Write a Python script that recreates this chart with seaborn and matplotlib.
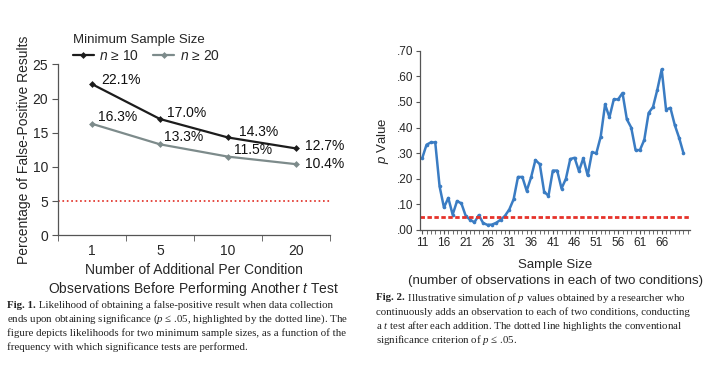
import numpy as np
import pandas as pd
import matplotlib
matplotlib.use('Agg')
import matplotlib.pyplot as plt
import seaborn as sns
from matplotlib.ticker import FuncFormatter, FixedLocator

# Fig. 1: false-positive rate by how often the t test is run
check_every = ["1", "5", "10", "20"]
fp_n10 = [22.1, 17.0, 14.3, 12.7]
fp_n20 = [16.3, 13.3, 11.5, 10.4]
group_labels = ["$\\mathit{n}$ ≥ 10", "$\\mathit{n}$ ≥ 20"]

# Fig. 2: simulated p value after each added observation (n = 11, 12, ...)
sample_start = 11
p_values = [0.28, 0.333, 0.342, 0.342, 0.17, 0.088, 0.125, 0.06, 0.113, 0.104,
            0.055, 0.04, 0.03, 0.058, 0.027, 0.02, 0.021, 0.028, 0.04, 0.055,
            0.08, 0.12, 0.207, 0.207, 0.153, 0.205, 0.273, 0.257, 0.15, 0.133,
            0.232, 0.232, 0.162, 0.2, 0.277, 0.282, 0.23, 0.28, 0.213, 0.303,
            0.3, 0.365, 0.49, 0.44, 0.51, 0.51, 0.535, 0.432, 0.40, 0.312,
            0.312, 0.352, 0.457, 0.48, 0.548, 0.627, 0.47, 0.477, 0.41, 0.36,
            0.30]
alpha = 0.05

sns.set_style("white")
plt.rcParams['font.family'] = ['Liberation Sans', 'DejaVu Sans']
plt.rcParams['mathtext.fontset'] = 'custom'
plt.rcParams['mathtext.rm'] = 'Liberation Sans'
plt.rcParams['mathtext.it'] = 'Liberation Sans:italic'
plt.rcParams['mathtext.cal'] = 'Liberation Serif:italic'

W, H = 727, 375
fig = plt.figure(figsize=(7.27, 3.75), dpi=100)


def box(l, t, r, b):
    return [l / W, 1 - b / H, (r - l) / W, (b - t) / H]


# ---------------- Fig. 1 ----------------
ax1 = fig.add_axes(box(58, 64.3, 330, 235.3))
df1 = pd.DataFrame({
    "pos": list(range(len(check_every))) * 2,
    "pct": fp_n10 + fp_n20,
    "group": [group_labels[0]] * len(fp_n10) + [group_labels[1]] * len(fp_n20),
})
sns.lineplot(data=df1, x="pos", y="pct", hue="group",
             palette=["#1c1c1c", "#7d8b8b"], marker="D", markersize=3.5,
             markeredgewidth=0, linewidth=1.6, ax=ax1)
ax1.axhline(5, color="#e02a20", ls=":", lw=1.2)

label_offsets = [[(6.5, 3), (5, 4.3), (8, 4.3), (6.5, 1.5)],
                 [(4, 5), (3, 5), (4.3, 4.7), (6.5, 0)]]
for series, offs in zip([fp_n10, fp_n20], label_offsets):
    for i, (v, off) in enumerate(zip(series, offs)):
        ax1.annotate(f"{v:.1f}%", (i, v), xytext=off, textcoords="offset points",
                     ha="left", va="center", fontsize=10, color="#111111")

ax1.set_xlim(-0.5, len(check_every) - 0.5)
ax1.set_ylim(0, 25)
ax1.set_yticks(range(0, 26, 5))
ax1.set_xticks(range(len(check_every)))
ax1.set_xticklabels(check_every)
ax1.xaxis.set_minor_locator(FixedLocator(np.arange(-0.5, len(check_every), 1.0)))
ax1.tick_params(axis="x", which="major", length=0, pad=6, labelsize=10)
ax1.tick_params(axis="x", which="minor", length=4, direction="out", color="#555555", bottom=True)
ax1.tick_params(axis="y", length=4, direction="out", color="#555555", left=True, labelsize=10, pad=3)
for s in ["top", "right"]:
    ax1.spines[s].set_visible(False)
for s in ["left", "bottom"]:
    ax1.spines[s].set_color("#555555")
    ax1.spines[s].set_linewidth(0.9)
ax1.set_ylabel("Percentage of False-Positive Results", fontsize=10, labelpad=1)
ax1.set_xlabel("Number of Additional Per Condition\n"
               "Observations Before Performing Another $\\mathit{t}$ Test",
               fontsize=10, labelpad=4, linespacing=1.2)
leg = ax1.legend(title="Minimum Sample Size", ncol=2, loc="lower left",
                 bbox_to_anchor=(0.055, 1.01), frameon=False, alignment="left",
                 fontsize=10, title_fontsize=9.5, handlelength=1.5,
                 columnspacing=1.0, handletextpad=0.4, borderaxespad=0,
                 borderpad=0, labelspacing=0.2)

# ---------------- Fig. 2 ----------------
ax2 = fig.add_axes(box(420, 50.7, 690, 230))
sizes = np.arange(sample_start, sample_start + len(p_values))
df2 = pd.DataFrame({"n": sizes, "p": p_values})
sns.lineplot(data=df2, x="n", y="p", color="#3a7cc3", linewidth=1.8,
             marker="o", markersize=2.6, markeredgewidth=0, ax=ax2)
ax2.axhline(alpha, color="#e6322a", lw=2.0, ls=(0, (1.6, 0.9)))

ax2.set_xlim(sample_start - 0.5, sample_start + len(p_values) + 0.5)
ax2.set_ylim(0, 0.70)
ax2.set_yticks(np.arange(0, 0.71, 0.1))
ax2.yaxis.set_major_formatter(FuncFormatter(lambda v, _: f"{v:.2f}"[1:]))
ax2.set_xticks(np.arange(sample_start, 67, 5))
ax2.xaxis.set_minor_locator(FixedLocator(np.arange(sample_start, sample_start + len(p_values) + 1)))
ax2.tick_params(axis="x", which="both", length=3, direction="out", color="#555555",
                bottom=True, labelsize=8.5, pad=2)
ax2.tick_params(axis="y", length=3, direction="out", color="#555555", left=True,
                labelsize=8.5, pad=2)
for s in ["top", "right"]:
    ax2.spines[s].set_visible(False)
for s in ["left", "bottom"]:
    ax2.spines[s].set_color("#555555")
    ax2.spines[s].set_linewidth(0.9)
ax2.set_ylabel("$\\mathit{p}$ Value", fontsize=9.5, labelpad=4)
ax2.set_xlabel("Sample Size\n(number of observations in each of two conditions)",
               fontsize=9.5, labelpad=7, linespacing=1.45)


# ---------------- captions ----------------
def caption(x, y, head, lines, step=14):
    kw = dict(family="Liberation Serif", fontsize=7.8, va="center", color="#222222")
    t = fig.text(x / W, 1 - y / H, head, fontweight="bold", **kw)
    ax1.annotate(" " + lines[0], xy=(1, 0.5), xycoords=t, annotation_clip=False, **kw)
    for k, line in enumerate(lines[1:], start=1):
        fig.text(x / W, 1 - (y + k * step) / H, line, **kw)


caption(7, 305, "Fig. 1.", [
    "Likelihood of obtaining a false-positive result when data collection",
    "ends upon obtaining significance ($\\mathcal{p}$ ≤ .05, highlighted by the dotted line). The",
    "figure depicts likelihoods for two minimum sample sizes, as a function of the",
    "frequency with which significance tests are performed.",
])
caption(376, 298, "Fig. 2.", [
    "Illustrative simulation of $\\mathcal{p}$ values obtained by a researcher who",
    "continuously adds an observation to each of two conditions, conducting",
    "a $\\mathcal{t}$ test after each addition. The dotted line highlights the conventional",
    "significance criterion of $\\mathcal{p}$ ≤ .05.",
])

fig.savefig("out.png", dpi=100)
plt.close(fig)
